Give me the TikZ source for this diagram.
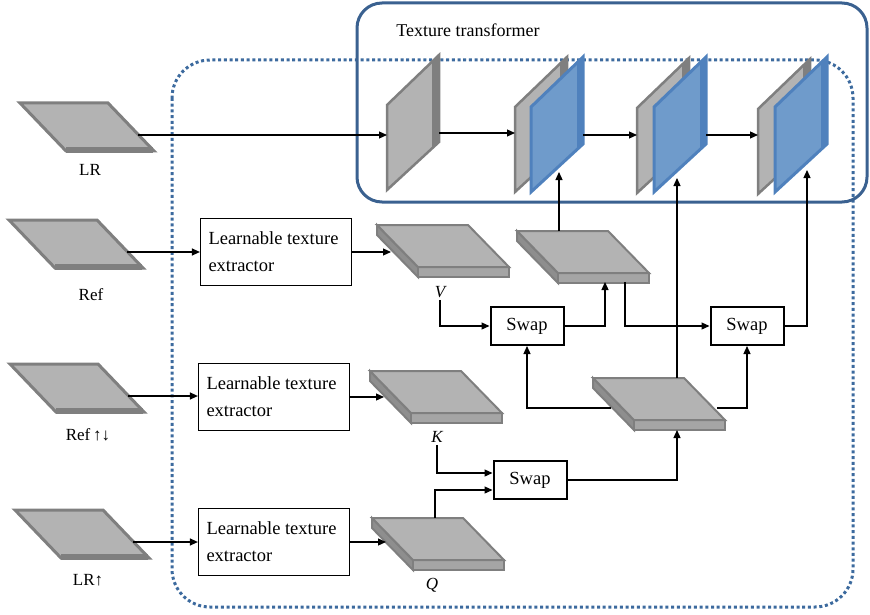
\documentclass[tikz,border=0pt]{standalone}
\usepackage{fontspec}
\setmainfont{Liberation Serif}
\usetikzlibrary{arrows.meta,positioning}

\definecolor{slabfill}{HTML}{B3B3B3}
\definecolor{slabedge}{HTML}{7F7F7F}
\definecolor{slabside}{HTML}{8E8E8E}
\definecolor{slabstrip}{HTML}{A5A5A5}
\definecolor{panefill}{HTML}{6F9BCB}
\definecolor{paneedge}{HTML}{4F81BD}
\definecolor{frameblue}{HTML}{3A6190}
\definecolor{dotblue}{HTML}{3C6A9E}

\begin{document}
\begin{tikzpicture}[x=1pt,y=-1pt,
    every node/.style={font=\fontsize{17}{20}\selectfont},
    conn/.style={line width=1.2pt,-{Triangle[length=8pt,width=7pt]}},
    extractor/.style={draw,line width=1.2pt,text width=135pt,inner xsep=8pt,
                      minimum height=67pt,align=flush left,font=\fontsize{18.5}{27}\selectfont},
    swapbox/.style={draw,line width=2pt,minimum width=73pt,minimum height=38pt,
                    font=\fontsize{18.5}{22}\selectfont},
    varlabel/.style={inner sep=2pt,font=\fontsize{17}{20}\selectfont\itshape},
    flatslab/.pic={
      \filldraw[slabedge,fill=slabfill,line width=3pt] (0,0) -- (88,0) -- (134,48) -- (46,48) -- cycle;
      \draw[slabedge,line width=6pt] (46,47) -- (133,47);
      \coordinate (-out) at (118,32);
    },
    thickslab/.pic={
      \filldraw[slabedge,fill=slabside,line width=2pt] (0,0) -- (41,42) -- (41,52) -- (0,10) -- cycle;
      \filldraw[slabedge,fill=slabstrip,line width=2.5pt] (41,42) rectangle (132,52);
      \filldraw[slabedge,fill=slabfill,line width=2pt] (0,0) -- (91,0) -- (132,42) -- (41,42) -- cycle;
      \coordinate (-in) at (14,26);
    },
    graypane/.pic={
      \filldraw[slabedge,fill=slabfill,line width=2.5pt] (0,0) -- (0,-85) -- (52,-135) -- (52,-48) -- cycle;
      \fill[slabedge] (45,-128) -- (52,-135) -- (52,-48) -- (45,-41) -- cycle;
      \coordinate (-w) at (0,-57);
      \coordinate (-e) at (52,-57);
    },
    bluepane/.pic={
      \filldraw[paneedge,fill=panefill,line width=3pt] (0,0) -- (0,-85) -- (52,-135) -- (52,-48) -- cycle;
      \fill[paneedge] (46,-129) -- (52,-135) -- (52,-48) -- (46,-42) -- cycle;
      \coordinate (-w) at (0,-57);
      \coordinate (-e) at (52,-57);
    }
]
\useasboundingbox (0,0) rectangle (870,615);

% frames
\draw[dotblue,line width=3pt,dash pattern=on 3pt off 2.7pt,rounded corners=38pt] (172,60) rectangle (853,607);
\draw[frameblue,line width=3pt,rounded corners=25pt] (357,3) rectangle (867,202);
\node (tttitle) at (468,30) {\fontsize{18}{21}\selectfont Texture transformer};

% inputs
\pic (lr) at (20,103) {flatslab};
\pic (ref) at (9,220) {flatslab};
\pic (refud) at (10,364) {flatslab};
\pic (lru) at (15,510) {flatslab};
\node (lrlab) at (90,170) {LR};
\node (reflab) at (91,295) {Ref};
\node (refudlab) at (88,435) {Ref\,↑↓};
\node (lrulab) at (88,580) {LR↑};

% extractors
\node[extractor] (ext1) at (276,252) {Learnable texture\\extractor};
\node[extractor] (ext2) at (274,397) {Learnable texture\\extractor};
\node[extractor] (ext3) at (274,542) {Learnable texture\\extractor};

% features
\pic (vslab) at (377,225) {thickslab};
\pic (kslab) at (370,371) {thickslab};
\pic (qslab) at (372,518) {thickslab};
\pic (texslab) at (517,231) {thickslab};
\pic (relslab) at (593,378) {thickslab};
\node[varlabel] (vlab) at (440,292) {V};
\node[varlabel] (klab) at (437,437) {K};
\node[varlabel] (qlab) at (432,585) {Q};

\node[swapbox] (swap1) at (527,326) {Swap};
\node[swapbox] (swap2) at (747,326) {Swap};
\node[swapbox] (swap3) at (530,480) {Swap};

% texture transformer planes
\pic (f0) at (387,190) {graypane};
\pic (f1g) at (515,192) {graypane};
\pic (f1b) at (531,192) {bluepane};
\pic (f2g) at (637,193) {graypane};
\pic (f2b) at (654,192) {bluepane};
\pic (f3g) at (758,194) {graypane};
\pic (f3b) at (775,192) {bluepane};

\coordinate (texup) at (559,231);
\coordinate (texin) at (605,282);
\coordinate (texdown) at (625,282);
\coordinate (reltop) at (677,378);
\coordinate (relbot) at (677,430);
\coordinate (relwest) at (611,408);
\coordinate (releast) at (717,408);
\coordinate (qtop) at (435,518);
\coordinate (f1hit) at (559,172);
\coordinate (f2hit) at (677,178);
\coordinate (f3hit) at (807,170);

\draw[conn] (lr-out) -- (lr-out -| f0-w);
\draw[conn] (f0-e) -- (f0-e -| f1g-w);
\draw[conn] (f1b-e) -- (f1b-e -| f2g-w);
\draw[conn] (f2b-e) -- (f2b-e -| f3g-w);

\draw[conn] (ref-out) -- (ref-out -| ext1.west);
\draw[conn] (refud-out) -- (refud-out -| ext2.west);
\draw[conn] (lru-out) -- (lru-out -| ext3.west);
\draw[conn] (ext1.east) -- (ext1.east -| vslab-in);
\draw[conn] (ext2.east) -- (ext2.east -| kslab-in);
\draw[conn] (ext3.east) -- (ext3.east -| qslab-in);

\draw[conn] (vlab.south) |- (swap1.west);
\draw[conn] (klab.south) |- ([yshift=7pt]swap3.west);
\draw[conn] (qtop) |- ([yshift=-10pt]swap3.west);
\draw[conn] (swap1.east) -| (texin);
\draw[conn] (texdown) |- (swap2.west);
\draw[conn] (relwest) -| (swap1.south);
\draw[conn] (releast) -| (swap2.south);
\draw[conn] (swap3.east) -| (relbot);
\draw[conn] (reltop) -- (f2hit);
\draw[conn] (texup) -- (f1hit);
\draw[conn] (swap2.east) -| (f3hit);
\end{tikzpicture}
\end{document}
